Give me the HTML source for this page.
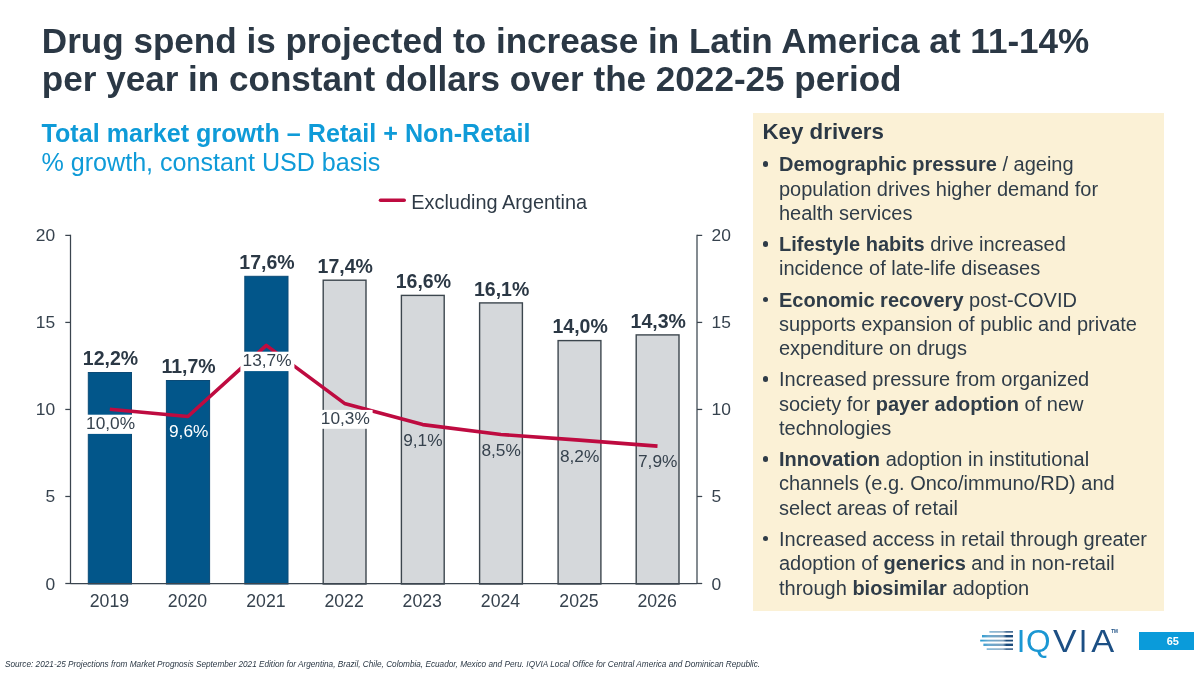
<!DOCTYPE html>
<html lang="en">
<head>
<meta charset="utf-8">
<title>Drug spend is projected to increase in Latin America</title>
<style>
html,body{margin:0;padding:0;background:#fff;}
body{width:1194px;height:673px;position:relative;overflow:hidden;font-family:"Liberation Sans",Arial,sans-serif;color:#2b3845;}
#chart{position:absolute;left:0;top:0;}
h1{position:absolute;left:41.8px;top:21.5px;margin:0;font-size:35.08px;line-height:38.6px;font-weight:bold;color:#2b3845;white-space:nowrap;}
.sub{position:absolute;left:41.5px;top:118.5px;margin:0;font-size:25.1px;line-height:29.4px;color:#0f9bd8;white-space:nowrap;}
.sub b{font-weight:bold;}
.panel{position:absolute;left:752.9px;top:112.5px;width:411.1px;height:498.2px;background:#fbf1d6;}
.panel h2{position:absolute;left:9.6px;top:6px;margin:0;font-size:22.3px;line-height:26px;font-weight:bold;color:#2b3845;}
.panel ul{position:absolute;left:0.6px;top:39.8px;margin:0;padding:0;list-style:none;font-size:20px;line-height:24.3px;color:#2f3c48;}
.panel li{position:relative;padding-left:25.5px;margin-bottom:6.9px;white-space:nowrap;}
.panel li:before{content:"";position:absolute;left:9.45px;top:9px;width:5.5px;height:5.5px;border-radius:50%;background:#2f3c48;}
.src{position:absolute;left:4.6px;top:658.3px;font-size:9.3px;line-height:12px;transform:scaleX(0.884);transform-origin:0 0;font-style:italic;color:#2b3845;white-space:nowrap;}
.pg{position:absolute;left:1139px;top:632px;width:55px;height:17.8px;background:#0a9bda;color:#fff;font-weight:bold;font-size:11px;line-height:18.2px;text-align:center;text-indent:12.5px;}
#logo{position:absolute;left:970px;top:620px;}
</style>
</head>
<body>
<h1>Drug spend is projected to increase in Latin America at 11-14%<br>per year in constant dollars over the 2022-25 period</h1>
<p class="sub"><b style="letter-spacing:0.02px">Total market growth – Retail + Non-Retail</b><br>% growth, constant USD basis</p>
<svg id="chart" width="1194" height="673" viewBox="0 0 1194 673">
<rect x="88.30" y="372.50" width="43.2" height="211.50" fill="#02568a" stroke="#0b4a76" stroke-width="1"/>
<rect x="166.40" y="380.50" width="43.2" height="203.50" fill="#02568a" stroke="#0b4a76" stroke-width="1"/>
<rect x="244.80" y="276.30" width="43.2" height="307.70" fill="#02568a" stroke="#0b4a76" stroke-width="1"/>
<rect x="323.20" y="280.20" width="42.80" height="303.80" fill="#d5d8db" stroke="#3c464e" stroke-width="1.4"/>
<rect x="401.40" y="295.40" width="42.80" height="288.60" fill="#d5d8db" stroke="#3c464e" stroke-width="1.4"/>
<rect x="479.60" y="302.90" width="42.80" height="281.10" fill="#d5d8db" stroke="#3c464e" stroke-width="1.4"/>
<rect x="558.10" y="340.60" width="42.80" height="243.40" fill="#d5d8db" stroke="#3c464e" stroke-width="1.4"/>
<rect x="636.20" y="334.90" width="42.80" height="249.10" fill="#d5d8db" stroke="#3c464e" stroke-width="1.4"/>
<g stroke="#3b454f" stroke-width="1.25" fill="none">
<line x1="70.5" y1="234.80" x2="70.5" y2="584.10"/>
<line x1="697.0" y1="234.80" x2="697.0" y2="584.10"/>
<line x1="70.5" y1="583.5" x2="697.0" y2="583.5"/>
<line x1="65.3" y1="583.50" x2="70.5" y2="583.50"/>
<line x1="697.0" y1="583.50" x2="702.2" y2="583.50"/>
<line x1="65.3" y1="496.48" x2="70.5" y2="496.48"/>
<line x1="697.0" y1="496.48" x2="702.2" y2="496.48"/>
<line x1="65.3" y1="409.45" x2="70.5" y2="409.45"/>
<line x1="697.0" y1="409.45" x2="702.2" y2="409.45"/>
<line x1="65.3" y1="322.42" x2="70.5" y2="322.42"/>
<line x1="697.0" y1="322.42" x2="702.2" y2="322.42"/>
<line x1="65.3" y1="235.40" x2="70.5" y2="235.40"/>
<line x1="697.0" y1="235.40" x2="702.2" y2="235.40"/>
</g>
<g font-family="Liberation Sans, Arial, sans-serif" font-size="17.4" fill="#36424e">
<text x="55.2" y="589.50" text-anchor="end">0</text>
<text x="711.6" y="589.50" text-anchor="start">0</text>
<text x="55.2" y="501.68" text-anchor="end">5</text>
<text x="711.6" y="501.68" text-anchor="start">5</text>
<text x="55.2" y="414.65" text-anchor="end">10</text>
<text x="711.6" y="414.65" text-anchor="start">10</text>
<text x="55.2" y="327.62" text-anchor="end">15</text>
<text x="711.6" y="327.62" text-anchor="start">15</text>
<text x="55.2" y="240.60" text-anchor="end">20</text>
<text x="711.6" y="240.60" text-anchor="start">20</text>
<text x="109.40" y="607" text-anchor="middle" font-size="17.7">2019</text>
<text x="187.50" y="607" text-anchor="middle" font-size="17.7">2020</text>
<text x="265.90" y="607" text-anchor="middle" font-size="17.7">2021</text>
<text x="344.10" y="607" text-anchor="middle" font-size="17.7">2022</text>
<text x="422.30" y="607" text-anchor="middle" font-size="17.7">2023</text>
<text x="500.50" y="607" text-anchor="middle" font-size="17.7">2024</text>
<text x="579.00" y="607" text-anchor="middle" font-size="17.7">2025</text>
<text x="657.10" y="607" text-anchor="middle" font-size="17.7">2026</text>
</g>
<polyline points="109.80,409.20 187.90,416.50 266.30,345.40 344.50,403.40 422.70,424.60 500.90,434.50 579.40,440.10 657.50,446.10" fill="none" stroke="#be0b40" stroke-width="3.6" stroke-linejoin="round" stroke-linecap="butt"/>
<g font-family="Liberation Sans, Arial, sans-serif" font-size="19.5" font-weight="bold" fill="#2b3845" text-anchor="middle">
<text x="110.50" y="365.40">12,2%</text>
<text x="188.60" y="373.40">11,7%</text>
<text x="267.00" y="269.20">17,6%</text>
<text x="345.20" y="272.90">17,4%</text>
<text x="423.40" y="288.10">16,6%</text>
<text x="501.60" y="295.60">16,1%</text>
<text x="580.10" y="333.30">14,0%</text>
<text x="658.20" y="327.60">14,3%</text>
</g>
<g font-family="Liberation Sans, Arial, sans-serif" font-size="17.3" text-anchor="middle">
<rect x="83.90" y="414.70" width="54" height="19.20" fill="#ffffff"/>
<text x="110.60" y="428.90" fill="#36424e">10,0%</text>
<text x="188.70" y="437.00" fill="#ffffff">9,6%</text>
<rect x="240.40" y="351.70" width="54" height="19.40" fill="#ffffff"/>
<text x="267.10" y="366.40" fill="#36424e">13,7%</text>
<rect x="318.60" y="409.90" width="54" height="18.90" fill="#ffffff"/>
<text x="345.30" y="424.30" fill="#36424e">10,3%</text>
<text x="422.90" y="445.70" fill="#36424e">9,1%</text>
<text x="501.10" y="455.60" fill="#36424e">8,5%</text>
<text x="579.60" y="461.50" fill="#36424e">8,2%</text>
<text x="657.70" y="467.30" fill="#36424e">7,9%</text>
</g>
<line x1="380.5" y1="200.3" x2="404.2" y2="200.3" stroke="#be0b40" stroke-width="3.6" stroke-linecap="round"/>
<text x="411.3" y="208.6" font-family="Liberation Sans, Arial, sans-serif" font-size="19.9" fill="#2f3b47">Excluding Argentina</text>
</svg>
<div class="panel">
<h2>Key drivers</h2>
<ul>
<li><b>Demographic pressure</b> / ageing<br>population drives higher demand for<br>health services</li>
<li><b>Lifestyle habits</b> drive increased<br>incidence of late-life diseases</li>
<li><b>Economic recovery</b> post-COVID<br>supports expansion of public and private<br>expenditure on drugs</li>
<li>Increased pressure from organized<br>society for <b>payer adoption</b> of new<br>technologies</li>
<li><b>Innovation</b> adoption in institutional<br>channels (e.g. Onco/immuno/RD) and<br>select areas of retail</li>
<li>Increased access in retail through greater<br>adoption of <b>generics</b> and in non-retail<br>through <b>biosimilar</b> adoption</li>
</ul>
</div>
<svg id="logo" width="160" height="40" viewBox="970 620 160 40">
<defs><linearGradient id="sg" x1="980" x2="1013" y1="0" y2="0" gradientUnits="userSpaceOnUse"><stop offset="0" stop-color="#1b9ad3"/><stop offset="0.25" stop-color="#6aa9cf"/><stop offset="0.7" stop-color="#7d9fbb"/><stop offset="0.8" stop-color="#1c4c7c"/><stop offset="1" stop-color="#1c4c7c"/></linearGradient></defs>
<g fill="url(#sg)">
<rect x="989.4" y="631.2" width="23.6" height="1.4"/>
<rect x="982" y="635" width="31" height="2.4"/>
<rect x="980.2" y="639.7" width="32.8" height="1.8"/>
<rect x="983.4" y="643.6" width="29.6" height="2.4"/>
<rect x="986.7" y="648.4" width="26.3" height="1.4"/>
</g>
<g font-family="Liberation Sans, Arial, sans-serif" font-size="31" text-anchor="middle">
<text transform="translate(1021,651.5)" fill="#1b97d3">I</text>
<text transform="translate(1038.4,651.5) scale(1.02,1)" fill="#1b97d3">Q</text>
<text transform="translate(1064.7,651.5) scale(1.14,1)" fill="#1c4f84">V</text>
<text transform="translate(1083.1,651.5)" fill="#1c4f84">I</text>
<text transform="translate(1102.7,651.5) scale(1.11,1)" fill="#1c4f84">A</text>
</g>
<text x="1111.3" y="632.7" font-family="Liberation Sans, Arial, sans-serif" font-size="4.6" font-weight="bold" fill="#1c4f84">TM</text>
</svg>
<div class="pg">65</div>
<div class="src">Source: 2021-25 Projections from Market Prognosis September 2021 Edition for Argentina, Brazil, Chile, Colombia, Ecuador, Mexico and Peru. IQVIA Local Office for Central America and Dominican Republic.</div>
</body>
</html>
